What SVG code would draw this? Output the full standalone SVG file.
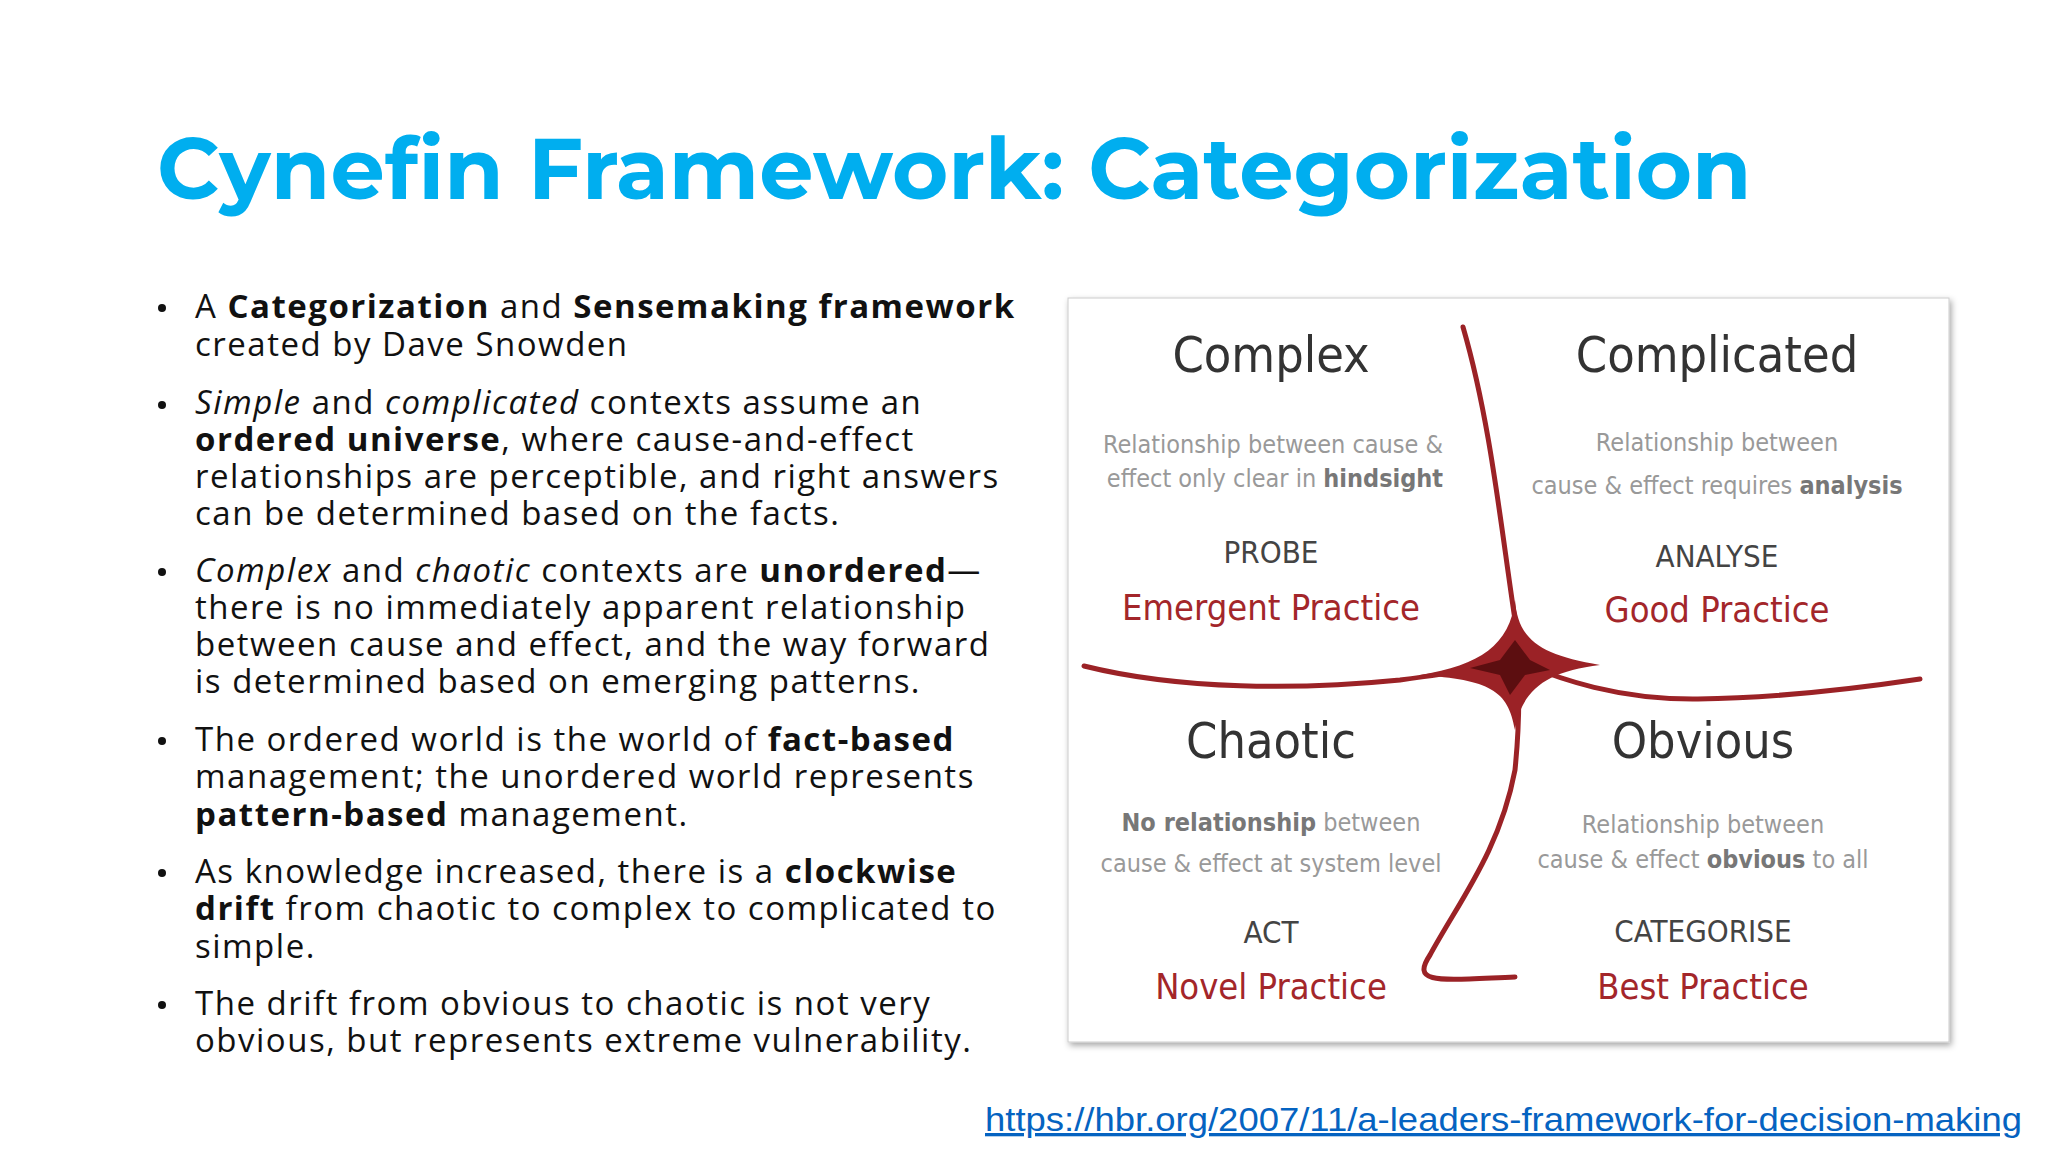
<svg xmlns="http://www.w3.org/2000/svg" width="2048" height="1152" viewBox="0 0 2048 1152">
<defs>
<style>
.t{font-family:"Open Sans","Liberation Sans",sans-serif;font-size:33px;fill:#111;letter-spacing:1.5px}
.b{font-weight:bold}
.i{font-style:italic}
.q{font-family:"DejaVu Sans Condensed","DejaVu Sans",sans-serif;text-anchor:middle}
.qt{font-size:50px;fill:#333}
.qd{font-size:25px;fill:#999}
.qa{font-size:31px;fill:#444}
.qp{font-size:36px;fill:#A3262A}
.cv{fill:none;stroke:#9B2226;stroke-linecap:round}
</style>
<filter id="sh" x="-5%" y="-5%" width="110%" height="110%"><feDropShadow dx="2" dy="3" stdDeviation="3" flood-opacity="0.35"/></filter>
</defs>
<rect width="2048" height="1152" fill="#fff"/>
<text x="157" y="199" font-family="Montserrat,'Open Sans','Liberation Sans',sans-serif" font-weight="bold" font-size="86" fill="#00AEEF">Cynefin Framework: Categorization</text>
<g id="bullets" class="t">
<g fill="#111"><circle cx="162" cy="308" r="4"/><circle cx="162" cy="405" r="4"/><circle cx="162" cy="572" r="4"/><circle cx="162" cy="741" r="4"/><circle cx="162" cy="873" r="4"/><circle cx="162" cy="1005" r="4"/></g>
<text x="195" y="318">A <tspan class="b">Categorization</tspan> and <tspan class="b">Sensemaking framework</tspan></text>
<text x="195" y="356">created by Dave Snowden</text>
<text x="195" y="414"><tspan class="i">Simple</tspan> and <tspan class="i">complicated</tspan> contexts assume an</text>
<text x="195" y="451"><tspan class="b">ordered universe</tspan>, where cause-and-effect</text>
<text x="195" y="488">relationships are perceptible, and right answers</text>
<text x="195" y="525">can be determined based on the facts.</text>
<text x="195" y="582"><tspan class="i">Complex</tspan> and <tspan class="i">chaotic</tspan> contexts are <tspan class="b">unordered</tspan>—</text>
<text x="195" y="619">there is no immediately apparent relationship</text>
<text x="195" y="656">between cause and effect, and the way forward</text>
<text x="195" y="693">is determined based on emerging patterns.</text>
<text x="195" y="751">The ordered world is the world of <tspan class="b">fact-based</tspan></text>
<text x="195" y="788">management; the unordered world represents</text>
<text x="195" y="826"><tspan class="b">pattern-based</tspan> management.</text>
<text x="195" y="883">As knowledge increased, there is a <tspan class="b">clockwise</tspan></text>
<text x="195" y="920"><tspan class="b">drift</tspan> from chaotic to complex to complicated to</text>
<text x="195" y="958">simple.</text>
<text x="195" y="1015">The drift from obvious to chaotic is not very</text>
<text x="195" y="1052">obvious, but represents extreme vulnerability.</text>
</g>
<g id="box">
<rect x="1068" y="298" width="881" height="744" fill="#fff" stroke="#ccc" filter="url(#sh)"/>
</g>
<g id="connectors">
<path class="cv" stroke-width="5" d="M1463,327 C1490,420 1500,520 1515,620 C1520,680 1520,720 1515,770 C1500,850 1460,900 1430,955 C1410,985 1440,980 1515,977"/>
<path class="cv" stroke-width="5" d="M1084,666 C1180,690 1300,690 1400,680 C1460,672 1500,665 1515,660 C1560,680 1620,700 1698,699 C1780,698 1860,688 1920,679"/>
<path fill="#9B2226" d="M1515,600 C1518,640 1540,655 1600,665 C1545,672 1522,690 1515,730 C1508,690 1490,680 1420,675 C1480,665 1510,645 1515,600 Z"/>
<path fill="#5C0E10" d="M1515,640 L1530,660 L1550,670 L1525,675 L1510,695 L1500,675 L1470,668 L1500,660 Z"/>
</g>
<g id="complex" class="q">
<text x="1271" y="372" class="qt">Complex</text>
<text x="1273" y="453" class="qd">Relationship between cause &amp;</text>
<text x="1275" y="487" class="qd">effect only clear in <tspan font-weight="bold" fill="#777">hindsight</tspan></text>
<text x="1271" y="563" class="qa">PROBE</text>
<text x="1271" y="620" class="qp">Emergent Practice</text>
</g>
<g id="complicated" class="q">
<text x="1717" y="372" class="qt">Complicated</text>
<text x="1717" y="451" class="qd">Relationship between</text>
<text x="1717" y="494" class="qd">cause &amp; effect requires <tspan font-weight="bold" fill="#777">analysis</tspan></text>
<text x="1717" y="567" class="qa">ANALYSE</text>
<text x="1717" y="622" class="qp">Good Practice</text>
</g>
<g id="chaotic" class="q">
<text x="1271" y="758" class="qt">Chaotic</text>
<text x="1271" y="831" class="qd"><tspan font-weight="bold" fill="#777">No relationship</tspan> between</text>
<text x="1271" y="872" class="qd">cause &amp; effect at system level</text>
<text x="1271" y="943" class="qa">ACT</text>
<text x="1271" y="999" class="qp">Novel Practice</text>
</g>
<g id="obvious" class="q">
<text x="1703" y="758" class="qt">Obvious</text>
<text x="1703" y="833" class="qd">Relationship between</text>
<text x="1703" y="868" class="qd">cause &amp; effect <tspan font-weight="bold" fill="#777">obvious</tspan> to all</text>
<text x="1703" y="942" class="qa">CATEGORISE</text>
<text x="1703" y="999" class="qp">Best Practice</text>
</g>
<text x="985" y="1131" font-family="'Liberation Sans',sans-serif" font-size="33" fill="#0563C1" text-decoration="underline" textLength="1037" lengthAdjust="spacingAndGlyphs">https://hbr.org/2007/11/a-leaders-framework-for-decision-making</text>
</svg>
